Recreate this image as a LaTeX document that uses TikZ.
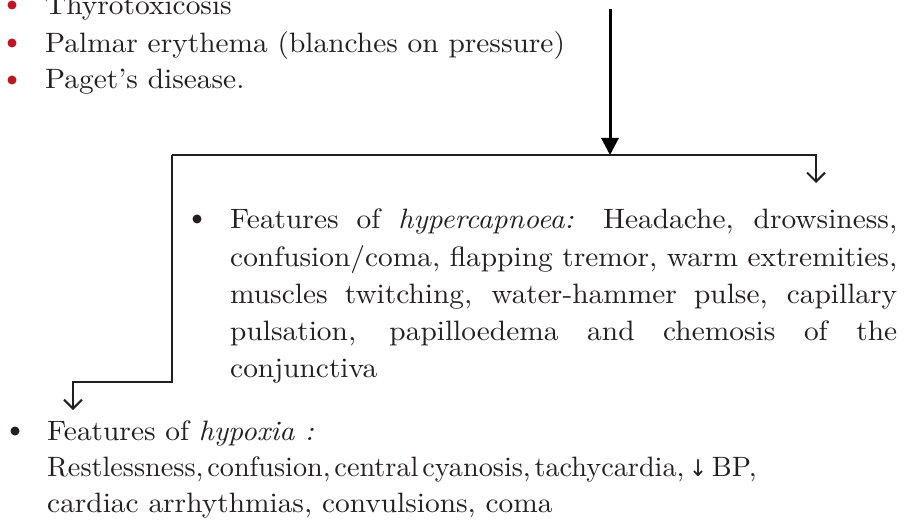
\documentclass[tikz,border=0pt]{standalone}
\usepackage{fontspec}
\usepackage{graphicx}
\setmainfont{lmroman10-regular.otf}[ItalicFont=lmroman10-italic.otf, FakeStretch=1.05]
\newfontfamily\arrowfont{DejaVu Sans}
\usetikzlibrary{arrows.meta}
\definecolor{bulletred}{RGB}{190,22,34}
\definecolor{ink}{RGB}{35,31,32}
\tikzset{
  txt/.style={anchor=base west, inner sep=0pt, text=ink, font=\fontsize{28}{34}\selectfont},
  rdot/.style={circle, fill=bulletred, inner sep=0pt, minimum size=9pt},
  bdot/.style={circle, fill=ink, inner sep=0pt, minimum size=9pt},
  link/.style={draw=ink, line width=2pt, line join=miter},
  barb/.style={-{Straight Barb[length=9pt,width=18pt]}},
  bigarrow/.style={draw=black, line width=3pt, -{Triangle[length=17pt,width=17pt]}}
}
\begin{document}
\begin{tikzpicture}[x=1pt,y=-1pt]
\useasboundingbox (0,0) rectangle (907,521);
\clip (0,0) rectangle (907,521);
% top list
\node[rdot] (d1) at (12,5) {};
\node[txt] (t1) at (45,15) {Thyrotoxicosis};
\node[rdot] (d2) at (12,43) {};
\node[txt] (t2) at (45,53) {Palmar erythema (blanches on pressure)};
\node[rdot] (d3) at (12,80) {};
\node[txt] (t3) at (45,89) {Paget’s disease.};
% main arrow
\coordinate (src) at (610,9);
\coordinate (split) at (610,155);
\draw[bigarrow] (src) -- (split);
% branches
\coordinate (lc) at (172,155);
\coordinate (rc) at (816,155);
\coordinate (rtip) at (816,183);
\coordinate (lb) at (172,382);
\coordinate (lbl) at (73,382);
\coordinate (ltip) at (73,410);
\draw[link,barb] (lc) -- (rc) -- (rtip);
\draw[link,barb] (lc) -- (lb) -- (lbl) -- (ltip);
% hypercapnoea block
\node[bdot] (hb) at (197,219) {};
\node[txt] (h1) at (230,229) {\makebox[667pt][s]{Features of \textit{hypercapnoea:} Headache, drowsiness,}};
\node[txt] (h2) at (230,266) {\makebox[667pt][s]{confusion/coma, flapping tremor, warm extremities,}};
\node[txt] (h3) at (230,303) {\makebox[667pt][s]{muscles twitching, water-hammer pulse, capillary}};
\node[txt] (h4) at (230,340) {\makebox[667pt][s]{pulsation, papilloedema and chemosis of the}};
\node[txt] (h5) at (230,377) {conjunctiva};
% hypoxia block
\node[bdot] (xb) at (15,431) {};
\node[txt] (x1) at (47,440) {Features of \textit{hypoxia :}};
\node[txt] (x2) at (47,476) {\scalebox{0.96}[1]{\spaceskip=4pt plus 1pt minus 1pt\relax Restlessness, confusion, central cyanosis, tachycardia,\,{\arrowfont\fontsize{23}{28}\selectfont ↓}\,BP,}};
\node[txt] (x3) at (47,512) {cardiac arrhythmias, convulsions, coma};
\end{tikzpicture}
\end{document}
